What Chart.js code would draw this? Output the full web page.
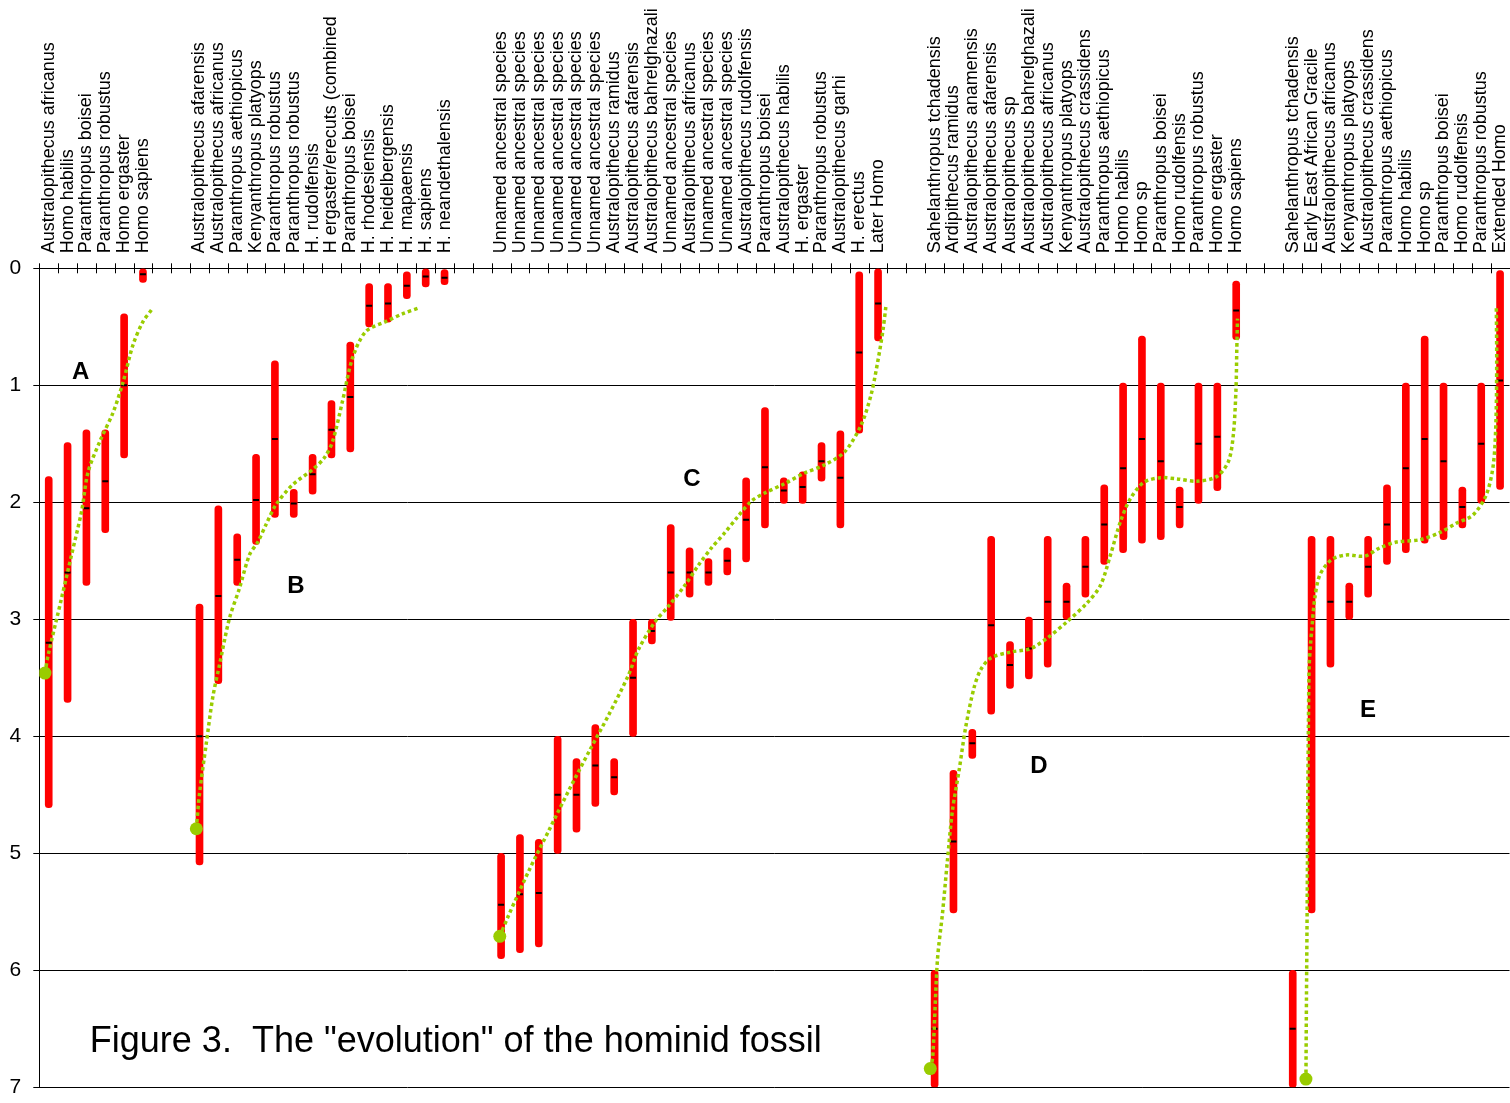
<!DOCTYPE html>
<html>
<head>
<meta charset="utf-8">
<title>The "evolution" of the hominid fossil</title>
<script src="https://cdn.jsdelivr.net/npm/chart.js@4/dist/chart.umd.min.js"></script>
<style>
  html, body { margin: 0; padding: 0; background: #fff; overflow: hidden; }
  #wrap { width: 1516px; height: 1103px; }
</style>
</head>
<body>
<div id="wrap"><canvas id="chart" width="1516" height="1103"></canvas></div>
<script>
// Species columns, five schemes separated by two empty slots each
const species = [
  'Australopithecus africanus', 'Homo habilis', 'Paranthropus boisei', 'Paranthropus robustus', 'Homo ergaster', 'Homo sapiens',
  '', '',
  'Australopithecus afarensis', 'Australopithecus africanus', 'Paranthropus aethiopicus', 'Kenyanthropus platyops',
  'Paranthropus robustus', 'Paranthropus robustus', 'H. rudolfensis', 'H ergaster/erecuts (combined', 'Paranthropus boisei',
  'H. rhodesiensis', 'H. heidelbergensis', 'H. mapaensis', 'H. sapiens', 'H. neandethalensis',
  '', '',
  'Unnamed ancestral species', 'Unnamed ancestral species', 'Unnamed ancestral species', 'Unnamed ancestral species',
  'Unnamed ancestral species', 'Unnamed ancestral species', 'Australopithecus ramidus', 'Australopithecus afarensis',
  'Australopithecus bahrelghazali', 'Unnamed ancestral species', 'Australopithecus africanus', 'Unnamed ancestral species',
  'Unnamed ancestral species', 'Australopithecus rudolfensis', 'Paranthropus boisei', 'Australopithecus habilis',
  'H. ergaster', 'Paranthropus robustus', 'Australopithecus garhi', 'H. erectus', 'Later Homo',
  '', '',
  'Sahelanthropus tchadensis', 'Ardipithecus ramidus', 'Australopithecus anamensis', 'Australopithecus afarensis',
  'Australopithecus sp', 'Australopithecus bahrelghazali', 'Australopithecus africanus', 'Kenyanthropus platyops',
  'Australopithecus crassidens', 'Paranthropus aethiopicus', 'Homo habilis', 'Homo sp', 'Paranthropus boisei',
  'Homo rudolfensis', 'Paranthropus robustus', 'Homo ergaster', 'Homo sapiens',
  '', '',
  'Sahelanthropus tchadensis', 'Early East African Gracile', 'Australopithecus africanus', 'Kenyanthropus platyops',
  'Australopithecus crassidens', 'Paranthropus aethiopicus', 'Homo habilis', 'Homo sp', 'Paranthropus boisei',
  'Homo rudolfensis', 'Paranthropus robustus', 'Extended Homo'
];

// Youngest date of each species range (millions of years ago)
const rangeYoung = [
  1.78, 1.49, 1.38, 1.38, 0.39, 0.00, null, null,
  2.87, 2.03, 2.27, 1.59, 0.79, 1.89, 1.59, 1.13, 0.63, 0.13, 0.13, 0.03, 0.00, 0.01, null, null,
  5.00, 4.84, 4.88, 4.00, 4.19, 3.90, 4.19, 3.00, 3.00, 2.19, 2.39, 2.48, 2.39, 1.79, 1.19, 1.79, 1.74, 1.49, 1.39, 0.03, 0.00, null, null,
  6.00, 4.29, 3.94, 2.29, 3.19, 2.98, 2.29, 2.69, 2.29, 1.85, 0.98, 0.58, 0.98, 1.87, 0.98, 0.98, 0.11, null, null,
  6.00, 2.29, 2.29, 2.69, 2.29, 1.85, 0.98, 0.58, 0.98, 1.87, 0.98, 0.02
];

// Oldest date of each species range
const rangeOld = [
  4.61, 3.71, 2.71, 2.26, 1.62, 0.12, null, null,
  5.10, 3.55, 2.71, 2.36, 2.13, 2.13, 1.93, 1.62, 1.57, 0.50, 0.46, 0.26, 0.16, 0.14, null, null,
  5.90, 5.85, 5.80, 5.00, 4.82, 4.60, 4.50, 4.00, 3.21, 3.01, 2.81, 2.71, 2.62, 2.51, 2.22, 2.01, 2.01, 1.82, 2.22, 1.41, 0.62, null, null,
  7.00, 5.51, 4.19, 3.81, 3.59, 3.51, 3.41, 3.00, 2.81, 2.53, 2.43, 2.35, 2.32, 2.22, 2.01, 1.90, 0.61, null, null,
  7.00, 5.51, 3.41, 3.00, 2.81, 2.53, 2.43, 2.35, 2.32, 2.22, 2.01, 1.89
];

// Representative date marked inside each range
const midDate = [
  3.20, 2.60, 2.05, 1.82, 1.00, 0.05, null, null,
  4.00, 2.80, 2.49, 1.98, 1.46, 2.01, 1.76, 1.38, 1.10, 0.32, 0.30, 0.15, 0.07, 0.08, null, null,
  5.44, 5.35, 5.34, 4.50, 4.50, 4.25, 4.35, 3.50, 3.10, 2.60, 2.60, 2.60, 2.50, 2.15, 1.70, 1.90, 1.87, 1.65, 1.79, 0.72, 0.30, null, null,
  6.50, 4.90, 4.06, 3.05, 3.39, 3.25, 2.85, 2.85, 2.55, 2.19, 1.71, 1.46, 1.65, 2.04, 1.50, 1.44, 0.36, null, null,
  6.50, null, 2.85, 2.85, 2.55, 2.19, 1.71, 1.46, 1.65, 2.04, 1.50, 0.96
];

// Trend curves per scheme: [column position, date]
const trendA = [[-0.20, 3.46], [-0.02, 3.30], [0.68, 2.82], [1.21, 2.45], [1.74, 2.08], [2.09, 1.74], [2.71, 1.48],
  [3.42, 1.23], [3.95, 0.97], [4.47, 0.655], [5.00, 0.456], [5.45, 0.356]];
const trendB = [[7.83, 4.79], [8.00, 4.49], [8.36, 4.06], [8.71, 3.66], [9.06, 3.39], [9.59, 2.99], [10.12, 2.735],
  [10.65, 2.45], [11.09, 2.34], [11.53, 2.19], [12.06, 2.02], [12.94, 1.85], [14.00, 1.72], [14.62, 1.62],
  [15.06, 1.48], [15.58, 1.14], [16.11, 0.77], [16.82, 0.54], [17.88, 0.456], [18.76, 0.39], [19.68, 0.336]];
const trendC = [[23.93, 5.71], [24.40, 5.53], [25.50, 5.14], [26.55, 4.80], [27.60, 4.46], [28.70, 4.12], [29.70, 3.82],
  [30.75, 3.48], [31.28, 3.26], [32.17, 3.02], [32.87, 2.89], [33.75, 2.71], [34.46, 2.54], [35.16, 2.39],
  [35.87, 2.26], [36.57, 2.12], [37.28, 1.99], [37.99, 1.92], [39.05, 1.84], [40.10, 1.75], [41.16, 1.68],
  [42.22, 1.57], [43.10, 1.34], [43.63, 1.08], [43.98, 0.80], [44.25, 0.54], [44.42, 0.32]];
const trendD = [[46.77, 6.84], [46.90, 6.74], [47.15, 5.91], [47.42, 5.51], [47.68, 5.06], [47.95, 4.63], [48.30, 4.29],
  [48.65, 3.92], [49.10, 3.58], [49.45, 3.43], [49.98, 3.33], [51.04, 3.28], [52.10, 3.25], [52.98, 3.16],
  [54.03, 3.02], [55.09, 2.86], [55.80, 2.71], [56.33, 2.45], [56.86, 2.165], [57.38, 1.97], [58.09, 1.83],
  [58.97, 1.79], [59.86, 1.80], [60.91, 1.82], [61.97, 1.78], [62.59, 1.65], [62.85, 1.42], [62.99, 1.03],
  [63.03, 0.71], [63.07, 0.43]];
const trendE = [[66.70, 6.93], [66.73, 6.20], [66.77, 5.34], [66.80, 4.49], [66.83, 3.92], [66.87, 3.41], [66.95, 3.20],
  [67.00, 3.105], [67.17, 2.82], [67.44, 2.62], [68.06, 2.49], [68.85, 2.45], [69.82, 2.46], [70.61, 2.39],
  [71.49, 2.34], [72.73, 2.32], [73.79, 2.26], [74.67, 2.18], [75.55, 2.11], [76.26, 1.94], [76.64, 1.68],
  [76.78, 1.31], [76.82, 0.80], [76.80, 0.33]];

// Scheme letters and their anchor positions [column, date]
const schemeLetters = ['A', 'B', 'C', 'D', 'E'];
const letterAnchors = [[1.70, 0.886], [13.12, 2.72], [34.12, 1.80], [52.54, 4.26], [69.99, 3.78]];
const caption = 'Figure 3.  The "evolution" of the hominid fossil';
const captionAnchor = [2.18, 6.70];

const FONT = '"Liberation Sans", Arial, Helvetica, sans-serif';
const GREEN = '#99cc00';

function trendDataset(points) {
  return {
    type: 'line',
    data: points.map(p => ({ x: p[0], y: p[1] })),
    borderColor: GREEN,
    borderWidth: 3.5,
    borderDash: [3.5, 3],
    borderCapStyle: 'butt',
    tension: 0.3,
    fill: false,
    pointRadius: ctx => (ctx.dataIndex === 0 ? 6.5 : 0),
    pointBackgroundColor: GREEN,
    pointBorderWidth: 0,
    order: 0
  };
}

const overlay = {
  id: 'overlay',
  afterDraw(chart) {
    const { ctx, chartArea } = chart;
    const xs = chart.scales.x;
    const ys = chart.scales.y;
    ctx.save();
    // tick marks crossing the top axis at the column boundaries
    ctx.strokeStyle = '#000';
    ctx.lineWidth = 1;
    ctx.beginPath();
    for (let i = 0; i <= species.length; i++) {
      const x = Math.round(xs.getPixelForValue(i - 0.5)) + 0.5;
      ctx.moveTo(x, chartArea.top - 5);
      ctx.lineTo(x, chartArea.top + 5);
    }
    ctx.stroke();
    // species names, rotated to read upward from the axis
    ctx.fillStyle = '#000';
    ctx.font = '18px ' + FONT;
    ctx.textAlign = 'left';
    ctx.textBaseline = 'middle';
    species.forEach((name, i) => {
      if (!name) return;
      ctx.save();
      ctx.translate(xs.getPixelForValue(i), chartArea.top - 15);
      ctx.rotate(-Math.PI / 2);
      ctx.fillText(name, 0, 0);
      ctx.restore();
    });
    // scheme letters
    ctx.font = 'bold 24px ' + FONT;
    ctx.textAlign = 'center';
    ctx.textBaseline = 'middle';
    schemeLetters.forEach((s, i) => {
      ctx.fillText(s, xs.getPixelForValue(letterAnchors[i][0]), ys.getPixelForValue(letterAnchors[i][1]));
    });
    // figure caption
    ctx.font = '36px ' + FONT;
    ctx.textAlign = 'left';
    ctx.textBaseline = 'alphabetic';
    ctx.fillText(caption, xs.getPixelForValue(captionAnchor[0]), ys.getPixelForValue(captionAnchor[1]));
    ctx.restore();
  }
};

const columns = species.map((_, i) => i);

new Chart(document.getElementById('chart'), {
  type: 'bar',
  data: {
    datasets: [
      trendDataset(trendA),
      trendDataset(trendB),
      trendDataset(trendC),
      trendDataset(trendD),
      trendDataset(trendE),
      {
        type: 'line',
        data: columns.filter(i => midDate[i] != null).map(i => ({ x: i, y: midDate[i] })),
        showLine: false,
        pointStyle: 'line',
        pointRadius: 3,
        pointBorderWidth: 2,
        pointBorderColor: '#000',
        borderColor: '#000',
        order: 1
      },
      {
        type: 'bar',
        data: columns.filter(i => rangeYoung[i] != null).map(i => ({ x: i, y: [rangeYoung[i], rangeOld[i]] })),
        backgroundColor: '#ff0000',
        barThickness: 7,
        borderRadius: 3.5,
        borderSkipped: false,
        order: 2
      }
    ]
  },
  options: {
    responsive: false,
    animation: false,
    events: [],
    layout: { padding: { top: 0, left: 0, right: 2.5, bottom: 15.7 } },
    plugins: {
      legend: { display: false },
      tooltip: { enabled: false },
      title: { display: false }
    },
    scales: {
      x: {
        type: 'linear',
        position: 'top',
        min: -0.5,
        max: 77.5,
        offset: false,
        grid: { display: true, drawOnChartArea: false, drawTicks: false, offset: false },
        border: { display: true, color: '#000', width: 1 },
        ticks: { display: false },
        afterFit(s) { s.height = 268.3; s.paddingLeft = 0; s.paddingRight = 0; }
      },
      y: {
        reverse: true,
        min: 0,
        max: 7,
        ticks: { stepSize: 1, padding: 12, color: '#000', font: { family: FONT, size: 21 } },
        grid: { color: '#000', lineWidth: 1, tickLength: 6 },
        border: { display: true, color: '#000', width: 1 },
        afterFit(s) { s.width = 39.3; s.paddingTop = 0; s.paddingBottom = 0; }
      }
    }
  },
  plugins: [overlay]
});
</script>
</body>
</html>
